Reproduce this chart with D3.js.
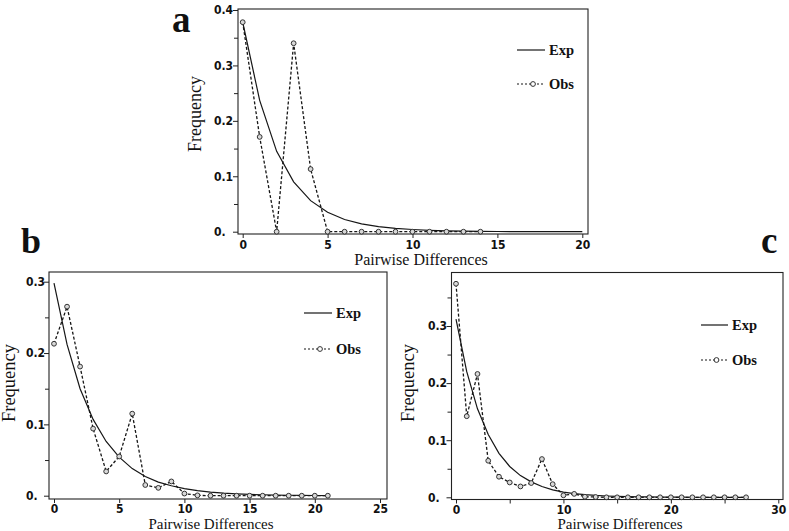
<!DOCTYPE html>
<html>
<head>
<meta charset="utf-8">
<script src="https://cdn.jsdelivr.net/npm/d3@7"></script>
<style>
  html, body { margin: 0; padding: 0; background: #fff; }
  svg { display: block; }
  .tick text { font-family: "Liberation Sans Narrow", "Arial Narrow", "DejaVu Sans Condensed", sans-serif; font-weight: bold; font-size: 12px; fill: #111; }
  .serif { font-family: "Liberation Serif", "Times New Roman", serif; fill: #111; }
</style>
</head>
<body>
<svg id="chart" width="789" height="531"></svg>
<script>
// ---------------- data ----------------
const panelLetters = ["a", "b", "c"];
const xTitle = "Pairwise Differences";
const yTitle = "Frequency";
const legendLabels = ["Exp", "Obs"];
const yTickLabels = ["0.", "0.1", "0.2", "0.3", "0.4"];

// panel a
const aXTicks = [0, 5, 10, 15, 20];
const aObs = [0.378, 0.171, 0, 0.340, 0.113, 0, 0, 0, 0, 0, 0, 0, 0, 0, 0];
const aExp = [0.378, 0.237, 0.145, 0.090, 0.056, 0.035, 0.022, 0.014, 0.009, 0.006, 0.004,
              0.0025, 0.0015, 0.001, 0.0006, 0.0004, 0.0002, 0.0001, 0, 0, 0];

// panel b
const bXTicks = [0, 5, 10, 15, 20, 25];
const bObs = [0.213, 0.265, 0.181, 0.094, 0.034, 0.055, 0.115, 0.015, 0.011, 0.020, 0.003,
              0.0005, 0, 0, 0, 0, 0, 0, 0, 0, 0, 0];
const bExp = [0.298, 0.212, 0.150, 0.107, 0.076, 0.054, 0.038, 0.027, 0.019, 0.014, 0.010,
              0.007, 0.005, 0.0035, 0.0025, 0.0018, 0.0013, 0.0009, 0.0006, 0.0005, 0.0003, 0.0002];

// panel c
const cXTicks = [0, 10, 20, 30];
const cXMinorTicks = [5, 15, 25];
const cObs = [0.374, 0.142, 0.216, 0.064, 0.036, 0.026, 0.019, 0.025, 0.067, 0.023, 0.0035,
              0.006, 0.001, 0.0005, 0, 0, 0, 0, 0, 0, 0, 0, 0, 0, 0, 0, 0, 0];
const cExp = [0.312, 0.220, 0.155, 0.110, 0.077, 0.054, 0.038, 0.027, 0.019, 0.013, 0.009,
              0.0065, 0.0046, 0.0032, 0.0023, 0.0016, 0.0011, 0.0008, 0.0006, 0.0004, 0.0003,
              0.0002, 0.0001, 0.0001, 0, 0, 0, 0];

// ---------------- layout ----------------
const panels = [
  { letter: panelLetters[0], obs: aObs, exp: aExp, xMax: 20, yMax: 0.4, xTicks: aXTicks, xMinor: [],
    yMajor: [0, 0.1, 0.2, 0.3, 0.4], yMinor: [0.05, 0.15, 0.25, 0.35],
    frame: { l: 238, t: 9, r: 588, b: 234 }, xr: [242.7, 582.3], yr: [231.7, 10], tickPad: 2,
    yLabelX: 214, letterPos: [172, 31.5, 37], yTitlePos: [201, 114, 18], xTitlePos: [421, 265, 16],
    legend: { x1: 517, x2: 545, yExp: 50, yObs: 84, tx: 549 } },
  { letter: panelLetters[1], obs: bObs, exp: bExp, xMax: 25, yMax: 0.3, xTicks: bXTicks, xMinor: [],
    yMajor: [0, 0.1, 0.2, 0.3], yMinor: [0.05, 0.15, 0.25],
    frame: { l: 49, t: 272, r: 387, b: 499 }, xr: [54, 380], yr: [495.7, 281.7], tickPad: 1.5,
    yLabelX: 26, letterPos: [21, 253, 36], yTitlePos: [14.5, 383, 18.5], xTitlePos: [211, 529, 15],
    legend: { x1: 304, x2: 332, yExp: 313, yObs: 349, tx: 336 } },
  { letter: panelLetters[2], obs: cObs, exp: cExp, xMax: 30, yMax: 0.3, xTicks: cXTicks, xMinor: cXMinorTicks,
    yMajor: [0, 0.1, 0.2, 0.3], yMinor: [0.05, 0.15, 0.25, 0.35],
    frame: { l: 451.5, t: 272.5, r: 783, b: 499.5 }, xr: [456, 778.3], yr: [497.3, 326], tickPad: 1.5,
    yLabelX: 428, letterPos: [761, 253, 37], yTitlePos: [414, 383, 18.5], xTitlePos: [620, 529, 15],
    legend: { x1: 701, x2: 728, yExp: 325, yObs: 360, tx: 732 } }
];

const svg = d3.select("#chart");
const ink = "#161616";

panels.forEach(p => {
  const g = svg.append("g");
  const x = d3.scaleLinear().domain([0, p.xMax]).range(p.xr);
  const y = d3.scaleLinear().domain([0, p.yMax]).range(p.yr);
  const f = p.frame;

  // frame
  g.append("rect").attr("x", f.l).attr("y", f.t).attr("width", f.r - f.l).attr("height", f.b - f.t)
    .attr("fill", "none").attr("stroke", "#222").attr("stroke-width", 1.1);

  // x axis
  const xa = g.append("g").attr("transform", `translate(0,${f.b})`)
    .call(d3.axisBottom(x).tickValues(p.xTicks).tickSize(4).tickPadding(p.tickPad).tickFormat(d3.format("d")));
  xa.select(".domain").remove();
  xa.selectAll(".tick line").attr("stroke", "#222");
  if (p.xMinor.length) {
    const xm = g.append("g").attr("transform", `translate(0,${f.b})`)
      .call(d3.axisBottom(x).tickValues(p.xMinor).tickSize(4).tickFormat(""));
    xm.select(".domain").remove();
    xm.selectAll(".tick line").attr("stroke", "#222");
  }

  // y axis
  const ya = g.append("g").attr("transform", `translate(${f.l},0)`)
    .call(d3.axisLeft(y).tickValues(p.yMajor).tickSize(5)
      .tickFormat(d => yTickLabels[Math.round(d * 10)]));
  ya.select(".domain").remove();
  ya.selectAll(".tick line").attr("stroke", "#222");
  ya.selectAll(".tick text").attr("text-anchor", "start").attr("x", p.yLabelX - f.l);
  const ym = g.append("g").attr("transform", `translate(${f.l},0)`)
    .call(d3.axisLeft(y).tickValues(p.yMinor).tickSize(4).tickFormat(""));
  ym.select(".domain").remove();
  ym.selectAll(".tick line").attr("stroke", "#222");

  // expected line
  const line = d3.line().x((d, i) => x(i)).y(d => y(d));
  g.append("path").datum(p.exp).attr("d", line).attr("fill", "none")
    .attr("stroke", ink).attr("stroke-width", 1.2);

  // observed dashed line + circles
  g.append("path").datum(p.obs).attr("d", line).attr("fill", "none")
    .attr("stroke", ink).attr("stroke-width", 1.3).attr("stroke-dasharray", "3,2");
  g.selectAll("circle.obs").data(p.obs).join("circle").attr("class", "obs")
    .attr("cx", (d, i) => x(i)).attr("cy", d => y(d)).attr("r", 2.4)
    .attr("fill", "#d8d8d8").attr("stroke", "#333").attr("stroke-width", 1);

  // legend
  const L = p.legend;
  g.append("line").attr("x1", L.x1).attr("x2", L.x2).attr("y1", L.yExp).attr("y2", L.yExp)
    .attr("stroke", ink).attr("stroke-width", 1.2);
  g.append("line").attr("x1", L.x1).attr("x2", L.x2).attr("y1", L.yObs).attr("y2", L.yObs)
    .attr("stroke", ink).attr("stroke-width", 1.2).attr("stroke-dasharray", "2,2");
  g.append("circle").attr("cx", (L.x1 + L.x2) / 2 + 2).attr("cy", L.yObs).attr("r", 2.4)
    .attr("fill", "#fff").attr("stroke", "#333").attr("stroke-width", 1);
  g.append("text").attr("class", "serif").attr("x", L.tx).attr("y", L.yExp + 5)
    .attr("font-size", 14.5).attr("font-weight", "bold").text(legendLabels[0]);
  g.append("text").attr("class", "serif").attr("x", L.tx).attr("y", L.yObs + 5)
    .attr("font-size", 14.5).attr("font-weight", "bold").text(legendLabels[1]);

  // titles
  g.append("text").attr("class", "serif").attr("text-anchor", "middle")
    .attr("x", p.xTitlePos[0]).attr("y", p.xTitlePos[1]).attr("font-size", p.xTitlePos[2]).text(xTitle);
  g.append("text").attr("class", "serif").attr("text-anchor", "middle")
    .attr("transform", `translate(${p.yTitlePos[0]},${p.yTitlePos[1]}) rotate(-90)`)
    .attr("font-size", p.yTitlePos[2]).text(yTitle);

  // panel letter
  g.append("text").attr("class", "serif").attr("x", p.letterPos[0]).attr("y", p.letterPos[1])
    .attr("font-size", p.letterPos[2]).attr("font-weight", "bold").text(p.letter);
});
</script>
</body>
</html>
